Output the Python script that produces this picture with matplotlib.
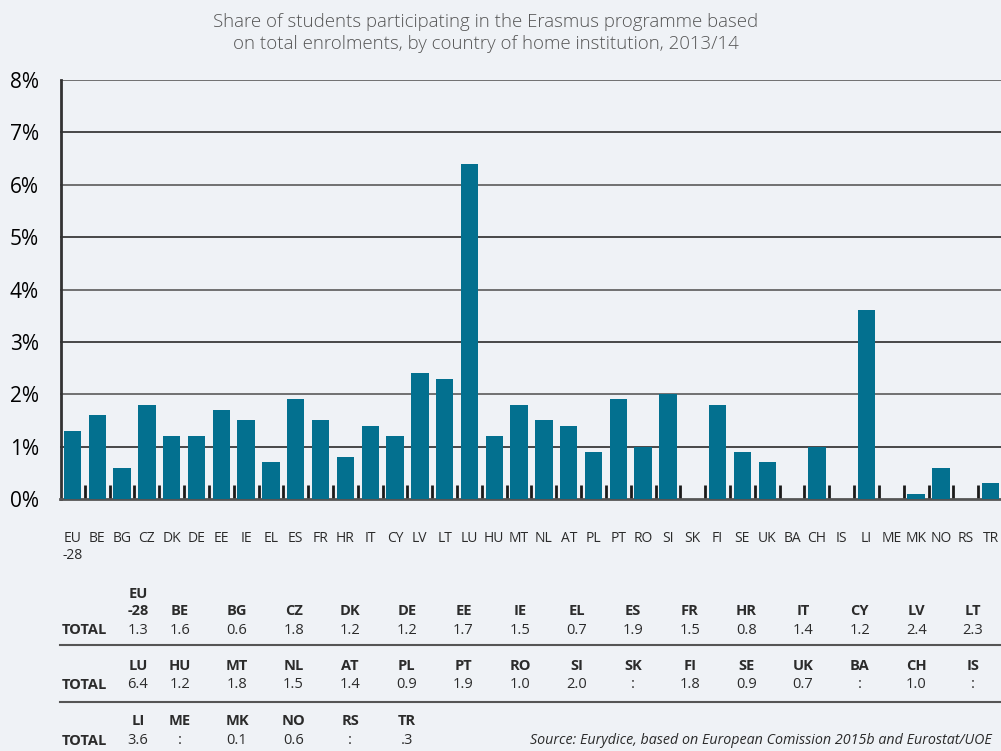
import numpy as np
import matplotlib
matplotlib.use('Agg')
from matplotlib import pyplot as plt

countries = ['EU\n-28', 'BE', 'BG', 'CZ', 'DK', 'DE', 'EE', 'IE', 'EL', 'ES',
             'FR', 'HR', 'IT', 'CY', 'LV', 'LT', 'LU', 'HU', 'MT', 'NL',
             'AT', 'PL', 'PT', 'RO', 'SI', 'SK', 'FI', 'SE', 'UK', 'BA',
             'CH', 'IS', 'LI', 'ME', 'MK', 'NO', 'RS', 'TR']
nan = np.nan
shares = [1.3, 1.6, 0.6, 1.8, 1.2, 1.2, 1.7, 1.5, 0.7, 1.9,
          1.5, 0.8, 1.4, 1.2, 2.4, 2.3, 6.4, 1.2, 1.8, 1.5,
          1.4, 0.9, 1.9, 1.0, 2.0, nan, 1.8, 0.9, 0.7, nan,
          1.0, nan, 3.6, nan, 0.1, 0.6, nan, 0.3]
# labels as printed in the table under the chart
table_labels = ['1.3', '1.6', '0.6', '1.8', '1.2', '1.2', '1.7', '1.5', '0.7', '1.9',
                '1.5', '0.8', '1.4', '1.2', '2.4', '2.3', '6.4', '1.2', '1.8', '1.5',
                '1.4', '0.9', '1.9', '1.0', '2.0', ':', '1.8', '0.9', '0.7', ':',
                '1.0', ':', '3.6', ':', '0.1', '0.6', ':', '.3']
yticks = [0, 1, 2, 3, 4, 5, 6, 7, 8]

bg = '#eff2f6'
barColor = '#03708f'
txt = '#2b2b2b'

plt.rcParams['font.family'] = ['Open Sans', 'DejaVu Sans']

W, H = 1001, 751
fig = plt.figure(figsize=(W/100, H/100), dpi=100, facecolor=bg)

def px(x, y):
    return x/W, 1 - y/H

# chart area: x from 60 to 1003 px, 0% at y=499, 8% at y=80
x0, y0 = px(60, 499)
x1, y1 = px(1003, 80)
ax = fig.add_axes([x0, y0, x1 - x0, y1 - y0])
ax.set_facecolor(bg)

n = len(countries)
pos = np.arange(n)
vals = np.nan_to_num(np.array(shares, dtype=float))
ax.bar(pos, vals, width=0.7, color=barColor, zorder=3)

ax.set_xlim(-0.5, n - 0.5)
ax.set_ylim(0, 8)
ax.set_yticks(yticks)
ax.set_yticklabels(['%d%%' % t for t in yticks], color=txt)
for t in yticks[1:]:
    ax.axhline(t, color='#3a3a3a' if t % 2 else '#666666', lw=1.3, zorder=1)

ax.set_xticks(pos)
ax.set_xticklabels(countries, fontsize=10, color=txt, va='top', linespacing=1.15)
ax.set_xticks(pos[:-1] + 0.5, minor=True)
ax.tick_params(axis='x', which='major', length=0, pad=23)
ax.tick_params(axis='x', which='minor', direction='in', length=10, width=2,
               color='#1a1a1a')
ax.tick_params(axis='y', length=0, pad=16, labelsize=15)

for s in ['top', 'right']:
    ax.spines[s].set_visible(False)
ax.spines['left'].set_color('#333333')
ax.spines['left'].set_linewidth(2)
ax.spines['bottom'].set_color('#555555')
ax.spines['bottom'].set_linewidth(2)
ax.spines['left'].set_position(('data', -0.45))

fig.text(*px(486, 33), 'Share of students participating in the Erasmus programme based\n'
         'on total enrolments, by country of home institution, 2013/14',
         ha='center', va='center', fontsize=13.4, color='#555555',
         linespacing=1.3, fontweight='light')

# table below the chart
colX = [138, 180] + [237 + 56.6*k for k in range(14)]
rows = [(0, 16, 618, 630), (16, 32, 673, 685), (32, 38, 728, 741)]
for r, (a, b, yc, yv) in enumerate(rows):
    fig.text(*px(62, yv), 'TOTAL', fontsize=10.5, fontweight='bold',
             color=txt, va='center', ha='left')
    for k, i in enumerate(range(a, b)):
        fig.text(*px(colX[k], yc), countries[i], fontsize=10.5,
                 fontweight='bold', color=txt, ha='center', va='bottom',
                 linespacing=1.25)
        fig.text(*px(colX[k], yv), table_labels[i], fontsize=10.5,
                 color=txt, ha='center', va='center')
for ys in [645, 702]:
    fig.add_artist(plt.Line2D([60/W, 1], [1 - ys/H, 1 - ys/H],
                              color='#555555', lw=1.5))

fig.text(*px(992, 741), 'Source: Eurydice, based on European Comission 2015b '
         'and Eurostat/UOE', fontsize=10.3, style='italic', color=txt,
         ha='right', va='center')

plt.savefig('out.png', dpi=100, facecolor=bg)
